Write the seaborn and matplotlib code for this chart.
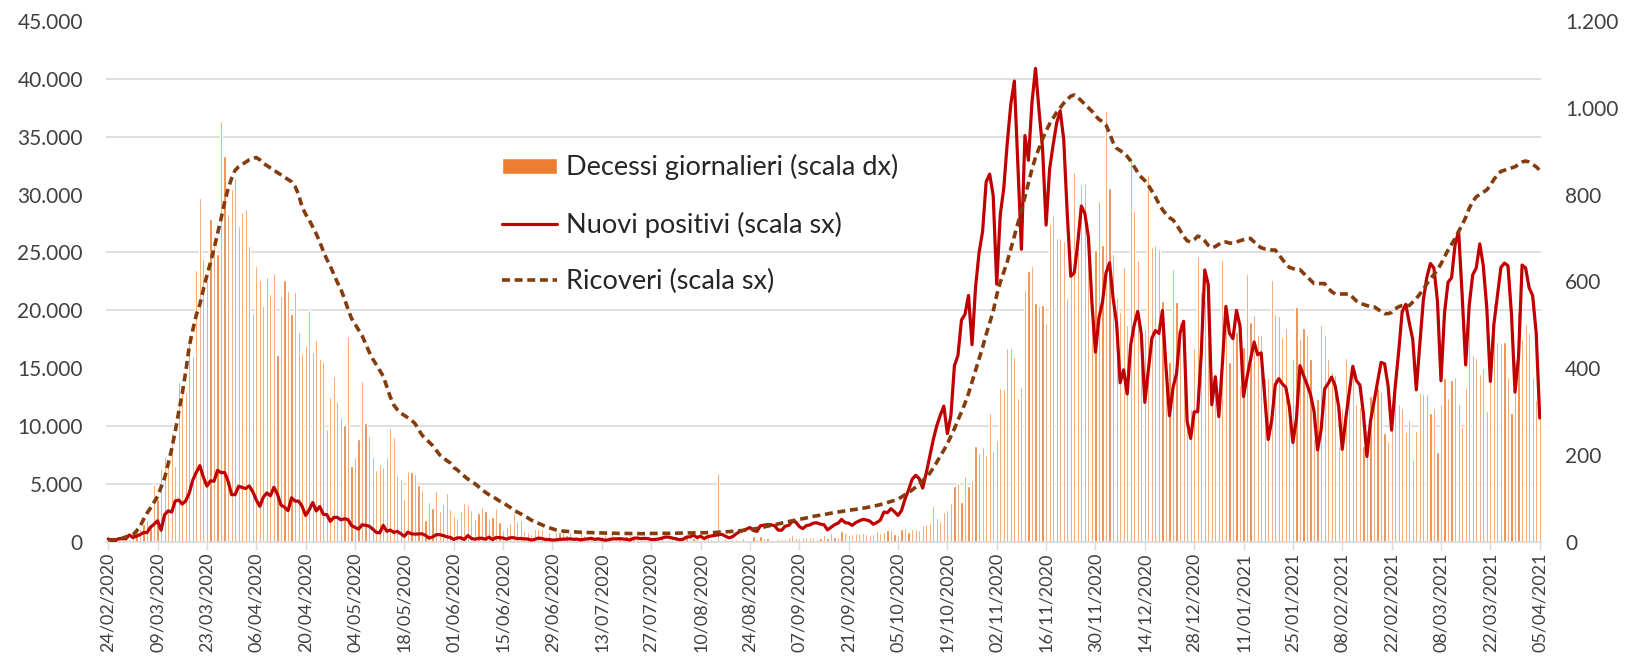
import numpy as np
import pandas as pd
import seaborn as sns
import matplotlib.pyplot as plt
from matplotlib.ticker import FuncFormatter

# daily series, 24/02/2020 -> 05/04/2021 (one value per day)
giorni = pd.date_range('2020-02-24', '2021-04-05', freq='D')

nuovi_positivi = [
    221, 93, 78, 250, 238, 240,
    566, 342, 466, 587, 769, 778, 1247, 1492, 1797, 977, 2313, 2651, 2547, 3497, 3590, 3233,
    3526, 4207, 5322, 5986, 6557, 5560, 4789, 5249, 5210, 6153, 5959, 5974, 5217, 4050, 4053,
    4782, 4668, 4585, 4805, 4316, 3599, 3039, 3836, 4204, 3951, 4694, 4092, 3153, 2972, 2667,
    3786, 3493, 3491, 3047, 2256, 2729, 3370, 2646, 3021, 2357, 2324, 1739, 2091, 2086, 1872,
    1965, 1900, 1389, 1221, 1075, 1444, 1401, 1327, 1083, 802, 744, 1402, 888, 992, 789, 875,
    675, 451, 813, 665, 642, 652, 669, 531, 300, 397, 584, 593, 516, 416, 355,
    178, 318, 321, 177, 518, 270, 197, 280, 283, 202, 379, 163, 346, 338, 301, 210, 329, 333,
    251, 262, 224, 218, 122, 190, 296, 259, 175, 174, 126, 142,
    187, 201, 223, 235, 192, 208, 138, 193, 229, 276, 188, 234, 169, 114, 162, 230, 233, 249,
    219, 190, 129, 282, 306, 252, 275, 255, 170, 181, 212, 288, 386,
    379, 295, 238, 159, 190, 384, 402, 552, 347, 463, 259, 412, 481, 523, 574, 629, 479, 320,
    403, 642, 845, 947, 1071, 1210, 953, 878, 1367, 1411, 1462, 1444, 1365,
    996, 978, 1326, 1397, 1733, 1695, 1297, 1108, 1370, 1434, 1597, 1616, 1501, 1458, 1008,
    1229, 1452, 1585, 1907, 1638, 1587, 1392, 1640, 1786, 1912, 1869, 1766, 1494, 1648, 1851,
    2548, 2499, 2844, 2578, 2257, 2677, 3678, 4458, 5372, 5724, 5456, 4619, 5901, 7332, 8804,
    10010, 10925, 11705, 9338, 10874, 15199, 16079, 19143, 19644, 21273, 17012, 21994, 24991,
    26831, 31084, 31758,
    29907, 22253, 28244, 30550, 34505, 37809, 39811, 32616, 25271, 35098, 32961, 37978, 40902,
    37255, 33979, 27354, 32191, 34283, 36176, 37242, 34767, 28337, 22930, 23232, 25853, 29003,
    28352, 26323, 20648, 16377,
    19350, 20709, 23225, 24099, 21052, 18887, 13720, 14842, 12756, 16999, 18727, 19903, 17938,
    12030, 14844, 17572, 18236, 17992, 19974, 15104, 10872, 13318, 14522, 18040, 19037, 10407,
    8913, 11210, 11224, 16202, 23477,
    22211, 11831, 14245, 10800, 15378, 20331, 18020, 17533, 19978, 18627, 12532, 14242, 15774,
    17246, 16146, 16310, 12545, 8825, 10497, 13571, 14078, 13633, 13331, 11629, 8561, 10593,
    15204, 14372, 13574, 12715, 11252,
    7925, 9660, 13189, 13659, 14218, 13442, 11641, 7970, 10630, 12956, 15146, 13908, 13532,
    11068, 7351, 10386, 12074, 13762, 15479, 15370, 13452, 9630, 13314, 16424, 19886, 20499,
    18916, 17455,
    13114, 17083, 20884, 22865, 24036, 23641, 20765, 13902, 19749, 22409, 22800, 25673, 26824,
    21315, 15267, 20396, 23059, 23649, 25735, 23832, 20159, 13846, 18765, 21267, 23696, 24076,
    23839, 19611, 12916, 16017, 23904,
    23649, 21932, 21261, 18025, 10680,
]

ricoveri = [
    127, 150, 162, 221, 284, 401,
    480, 580, 900, 1300, 1900, 2450, 2900, 3400, 3900, 4700, 5500, 6700, 8000, 9500, 11200,
    12800, 14700, 16900, 18300, 19600, 20500, 21800, 23000, 24100, 25300, 26600, 27900, 29300,
    30500, 31400, 32100,
    32400, 32600, 32800, 33000, 33100, 33200, 33000, 32700, 32500, 32300, 32100, 31900, 31700,
    31500, 31300, 31100, 30700, 30000, 28900, 28300, 27800, 27200, 26600, 25900, 25100, 24400,
    23800, 23100, 22400, 21800,
    21000, 20100, 19300, 18800, 18300, 17800, 17100, 16400, 15800, 15300, 14800, 14300, 13400,
    12500, 11800, 11400, 11100, 10900, 10700, 10500, 10200, 9700, 9200, 8900, 8600, 8300, 7900,
    7500, 7300, 7000, 6800,
    6400, 6200, 5900, 5650, 5400, 5200, 5000, 4750, 4500, 4250, 4050, 3900, 3700, 3500, 3350,
    3150, 2950, 2750, 2550, 2400, 2200, 2050, 1850, 1700, 1580, 1450, 1300, 1200, 1100, 1000,
    950, 900, 880, 860, 840, 820, 800, 790, 780, 770, 760, 750, 740, 730, 720, 720, 710, 700,
    700, 700, 690, 690, 690, 680, 680, 690, 700, 700, 700, 710, 710,
    710, 720, 720, 730, 730, 740, 740, 750, 750, 760, 760, 770, 770, 780, 800, 820, 840, 860,
    880, 900, 930, 960, 990, 1030, 1080, 1130, 1190, 1260, 1330, 1390, 1450,
    1520, 1590, 1660, 1730, 1790, 1850, 1910, 1980, 2040, 2100, 2180, 2230, 2280, 2330, 2390,
    2450, 2500, 2550, 2600, 2650, 2700, 2740, 2780, 2830, 2880, 2930, 2990, 3050, 3120, 3190,
    3280, 3370, 3450, 3550, 3650, 3850, 4050, 4250, 4450, 4700, 4950, 5250, 5550, 5900, 6350,
    6850, 7400, 7900, 8450, 9100, 9750, 10500, 11200, 11950, 12800, 13800, 14800, 15800, 16800,
    17900, 18900,
    19900, 21300, 22400, 23300, 24200, 25300, 26400, 27500, 28600, 29800, 31000, 32200, 33200,
    34000, 34800, 35500, 36100, 36600, 37100, 37500, 37900, 38200, 38500, 38600, 38400, 38100,
    37800, 37500, 37200, 36800,
    36500, 36300, 36000, 35300, 34500, 34000, 33800, 33600, 33300, 32900, 32400, 31900, 31500,
    31200, 30800, 30300, 29800, 29200, 28700, 28300, 28000, 27800, 27400, 26900, 26400, 26000,
    25900, 26100, 26400, 26300, 26000,
    25600, 25400, 25500, 25700, 25900, 25900, 25800, 25800, 25900, 26000, 26100, 26200, 26200,
    25900, 25600, 25400, 25300, 25300, 25200, 25200, 24800, 24400, 24000, 23700, 23600, 23500,
    23500, 23200, 22900, 22600, 22300,
    22300, 22300, 22300, 21900, 21600, 21400, 21400, 21400, 21400, 21400, 21100, 20800, 20600,
    20500, 20400, 20300, 20300, 20100, 19900, 19700, 19700, 19800, 20100, 20300, 20400, 20400,
    20400, 20700,
    21000, 21400, 21800, 22300, 22700, 23100, 23500, 24000, 24600, 25200, 25700, 26200, 26800,
    27400, 28000, 28800, 29400, 29800, 30000, 30200, 30400, 30800, 31300, 31700, 32000, 32100,
    32200, 32300, 32400, 32600, 32800,
    32900, 32800, 32600, 32400, 32100,
]

decessi = [
    7, 3, 2, 5, 4, 8,
    5, 18, 27, 28, 41, 49, 36, 133, 97, 168, 196, 189, 250, 175, 368, 349, 345, 475, 427, 627,
    793, 651, 601, 743, 683, 662, 969, 889, 756, 812, 837,
    727, 760, 766, 681, 525, 636, 604, 542, 610, 570, 619, 431, 566, 602, 578, 525, 575, 482,
    433, 454, 534, 437, 464, 420, 415, 260, 333, 382, 323, 285,
    269, 474, 174, 195, 236, 369, 274, 243, 194, 165, 179, 172, 195, 262, 242, 153, 145, 99,
    162, 161, 156, 130, 119, 50, 92, 78, 117, 70, 87, 111, 75,
    60, 55, 71, 88, 85, 72, 53, 65, 79, 71, 53, 56, 78, 44, 26, 34, 43, 66, 47, 49, 24, 23,
    18, 30, 30, 30, 8, 23, 6, 23,
    21, 30, 15, 21, 7, 8, 30, 15, 12, 12, 7, 7, 13, 17, 13, 20, 11, 9, 3, 13, 15, 9, 10, 5,
    5, 3, 5, 11, 6, 11, 3,
    5, 5, 8, 6, 10, 10, 3, 8, 13, 2, 6, 10, 6, 3, 159, 4, 7, 4, 5, 6, 3, 9, 4, 4, 13, 5, 13,
    9, 9, 1, 4,
    6, 6, 5, 10, 16, 7, 8, 10, 10, 10, 10, 6, 7, 14, 9, 20, 10, 10, 24, 20, 14, 18, 20, 19,
    20, 17, 16, 17, 24, 19,
    23, 27, 27, 18, 16, 28, 31, 22, 28, 29, 26, 39, 41, 43, 83, 55, 47, 69, 73, 89, 127, 136,
    91, 151, 128, 141, 221, 205, 217, 199, 297,
    208, 233, 353, 352, 445, 446, 425, 331, 356, 580, 623, 636, 550, 544, 546, 504, 731, 753,
    699, 699, 692, 562, 630, 853, 722, 822, 827, 686, 541, 672,
    785, 684, 993, 814, 662, 564, 528, 634, 499, 887, 761, 649, 484, 491, 846, 680, 683, 674,
    554, 352, 415, 628, 553, 505, 459, 261, 305, 445, 659, 575, 555,
    462, 364, 347, 348, 649, 548, 414, 483, 483, 361, 448, 616, 507, 522, 477, 475, 377, 377,
    603, 524, 521, 472, 492, 299, 420, 541, 467, 492, 477, 421, 237,
    329, 499, 476, 421, 391, 385, 221, 307, 422, 336, 391, 316, 311, 221, 258, 336, 347, 353,
    347, 251, 232, 274, 356, 318, 308, 253, 280, 188,
    255, 343, 339, 339, 297, 307, 207, 318, 376, 332, 373, 380, 317, 264, 354, 502, 431, 423,
    386, 401, 300, 386, 551, 460, 457, 460, 380, 297, 417, 529, 467,
    501, 481, 376, 326, 296,
]

df = pd.DataFrame({'giorno': np.arange(len(giorni)),
                   'nuovi_positivi': nuovi_positivi,
                   'ricoveri': ricoveri,
                   'decessi': decessi})

sns.set_theme(style='white')
plt.rcParams['font.family'] = ['Lato', 'DejaVu Sans']

txt = '#404040'
grid_col = '#d9d9d9'
fmt = FuncFormatter(lambda v, p: f'{v:,.0f}'.replace(',', '.'))

fig = plt.figure(figsize=(16.25, 6.56), dpi=100)
ax2 = fig.add_axes([0.0655, 0.1745, 0.8831, 0.7935])   # bars, right scale
ax = ax2.twinx()                                       # lines, left scale
ax.yaxis.tick_left()
ax2.yaxis.tick_right()

sns.barplot(data=df, x='giorno', y='decessi', ax=ax2, color='#ED7D31',
            width=0.62, saturation=1, label='Decessi giornalieri (scala dx)')
sns.lineplot(data=df, x='giorno', y='nuovi_positivi', ax=ax, color='#C00000',
             lw=2.3, label='Nuovi positivi (scala sx)')
sns.lineplot(data=df, x='giorno', y='ricoveri', ax=ax, color='#843C0C',
             lw=2.6, label='Ricoveri (scala sx)')
ax.lines[1].set_linestyle((0, (2.2, 1.3)))

n = len(df)
ax2.set_xlim(-0.5, n - 0.5)
ax.set_ylim(0, 45000)
ax2.set_ylim(0, 1200)
ax.set_yticks(np.arange(0, 45001, 5000))
ax2.set_yticks(np.arange(0, 1201, 200))
ax.yaxis.set_major_formatter(fmt)
ax2.yaxis.set_major_formatter(fmt)

# gridlines follow the left scale; drawn on the bar axis so they sit behind everything
ax2.set_yticks(np.arange(0, 1201, 1200 / 9), minor=True)
ax2.grid(which='minor', axis='y', color=grid_col, lw=1.2)
ax2.grid(which='major', visible=False)
ax2.set_axisbelow(True)
ax.set_zorder(ax2.get_zorder() + 1)
ax.patch.set_visible(False)

ticks = np.arange(0, n, 14)
ax2.set_xticks(ticks)
ax2.set_xticklabels([giorni[i].strftime('%d/%m/%Y') for i in ticks], rotation=90)
ax2.tick_params(axis='x', length=6, width=1, color=grid_col, pad=2,
                labelsize=13, labelcolor=txt, bottom=True)
ax.tick_params(axis='y', length=0, pad=17, labelsize=15, labelcolor=txt)
ax2.tick_params(axis='y', which='both', length=0, pad=17, labelsize=15, labelcolor=txt)
ax.tick_params(axis='x', bottom=False, labelbottom=False)

for a in (ax, ax2):
    for s in a.spines.values():
        s.set_visible(False)
    a.set_xlabel('')
    a.set_ylabel('')
ax2.spines['bottom'].set_visible(True)
ax2.spines['bottom'].set_color(grid_col)
ax2.spines['bottom'].set_linewidth(1.2)

h2, l2 = ax2.get_legend_handles_labels()
h1, l1 = ax.get_legend_handles_labels()
if ax2.get_legend():
    ax2.get_legend().remove()
ax.legend(h2 + h1, l2 + l1, loc='upper left', bbox_to_anchor=(0.3092, 0.765),
          bbox_transform=fig.transFigure, frameon=False, fontsize=19.5,
          handlelength=2.03, handleheight=0.55, handletextpad=0.31,
          labelspacing=1.15, borderpad=0, borderaxespad=0, labelcolor='#262626')

fig.savefig('out.png', dpi=100)
